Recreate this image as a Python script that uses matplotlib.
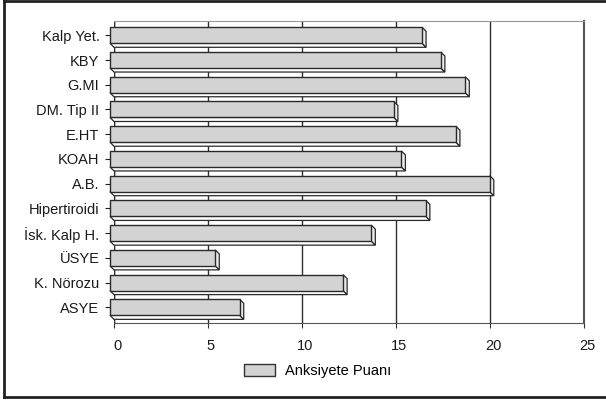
import matplotlib
matplotlib.use("Agg")
import matplotlib.pyplot as plt
import matplotlib.transforms as mtransforms
from matplotlib.patches import Polygon, Patch
from matplotlib.lines import Line2D

categories = ["Kalp Yet.", "KBY", "G.MI", "DM. Tip II", "E.HT", "KOAH", "A.B.",
              "Hipertiroidi", "İsk. Kalp H.", "ÜSYE", "K. Nörozu", "ASYE"]
scores = [16.6, 17.6, 18.9, 15.1, 18.4, 15.5, 20.2, 16.8, 13.9, 5.6, 12.4, 6.9]
x_ticks = [0, 5, 10, 15, 20, 25]
series_name = "Anksiyete Puanı"

plt.rcParams["font.family"] = ["Liberation Sans", "DejaVu Sans"]
FS = 10.5

W, H = 606, 403
fig = plt.figure(figsize=(W / 100, H / 100), dpi=100)

# back wall of the 3D plot area, in pixels
wall_l, wall_r, wall_t, wall_b = 114, 584, 21, 323
ax = fig.add_axes([wall_l / W, (H - wall_b) / H, (wall_r - wall_l) / W, (wall_b - wall_t) / H])

xmax = 25
y_top, y_bot = -0.578, 11.633
ax.set_xlim(0, xmax)
ax.set_ylim(y_bot, y_top)

# depth offset of the bars: 4 px right and 4 px down
px_x = (wall_r - wall_l) / xmax
px_y = (wall_b - wall_t) / (y_bot - y_top)
dx = 4 / px_x
dy = 4 / px_y
bar_h = 16 / px_y

ax.set_axisbelow(True)
ax.xaxis.grid(True, color="#2e2e2e", lw=1.0)
ax.axvline(0, color="#444444", lw=1.0, zorder=0.5)

edge = "#2a2a2a"
for i, v in enumerate(scores):
    top = i - bar_h / 2
    bot = i + bar_h / 2
    under = Polygon([(-dx, bot), (v - dx, bot), (v, bot + dy), (0, bot + dy)],
                    closed=True, facecolor="white", edgecolor=edge, lw=0.9,
                    zorder=2, clip_on=False)
    end = Polygon([(v - dx, top), (v, top + dy), (v, bot + dy), (v - dx, bot)],
                  closed=True, facecolor="#ececec", edgecolor=edge, lw=0.9,
                  zorder=2, clip_on=False)
    ax.add_patch(under)
    ax.add_patch(end)

ax.barh(range(len(categories)), scores, left=-dx, height=bar_h,
        color="#d3d3d3", edgecolor=edge, lw=1.0, zorder=3, clip_on=False)

# axes styling
ax.spines["left"].set_position(("data", -dx))
ax.spines["left"].set_visible(False)
ax.spines["top"].set_color("#999999")
ax.spines["right"].set_color("#555555")
ax.spines["right"].set_linewidth(1.5)
ax.spines["bottom"].set_color("#555555")

ax.set_yticks(range(len(categories)))
ax.set_yticklabels(categories, fontsize=FS, color="#1a1a1a")
ax.tick_params(axis="y", length=3.6, width=0.8, color="#222222", pad=4.0)

ax.set_xticks(x_ticks)
ax.set_xticklabels([str(t) for t in x_ticks], fontsize=FS, color="#1a1a1a")
ax.tick_params(axis="x", length=3.6, width=0.8, color="#333333", pad=8.0)
shift = mtransforms.ScaledTranslation(3 / 100, 0, fig.dpi_scale_trans)
for lbl in ax.get_xticklabels():
    lbl.set_transform(lbl.get_transform() + shift)

handle = Patch(facecolor="#d3d3d3", edgecolor="#333333", lw=1.0)
fig.legend([handle], [series_name], loc="center",
           bbox_to_anchor=(318 / W, 1 - 371 / H), bbox_transform=fig.transFigure,
           frameon=False, fontsize=FS, handlelength=2.1, handleheight=0.82,
           handletextpad=0.7, borderpad=0)

# outer frame (open on the right)
for xs, ys in [((4 / W, 4 / W), (1 - 1 / H, 1 - 396.5 / H)),
               ((4 / W, 1.0), (1 - 1 / H, 1 - 1 / H)),
               ((4 / W, 1.0), (1 - 396.5 / H, 1 - 396.5 / H))]:
    fig.add_artist(Line2D(xs, ys, transform=fig.transFigure, color="#222222", lw=2.0))

fig.savefig("out.png", dpi=100)
